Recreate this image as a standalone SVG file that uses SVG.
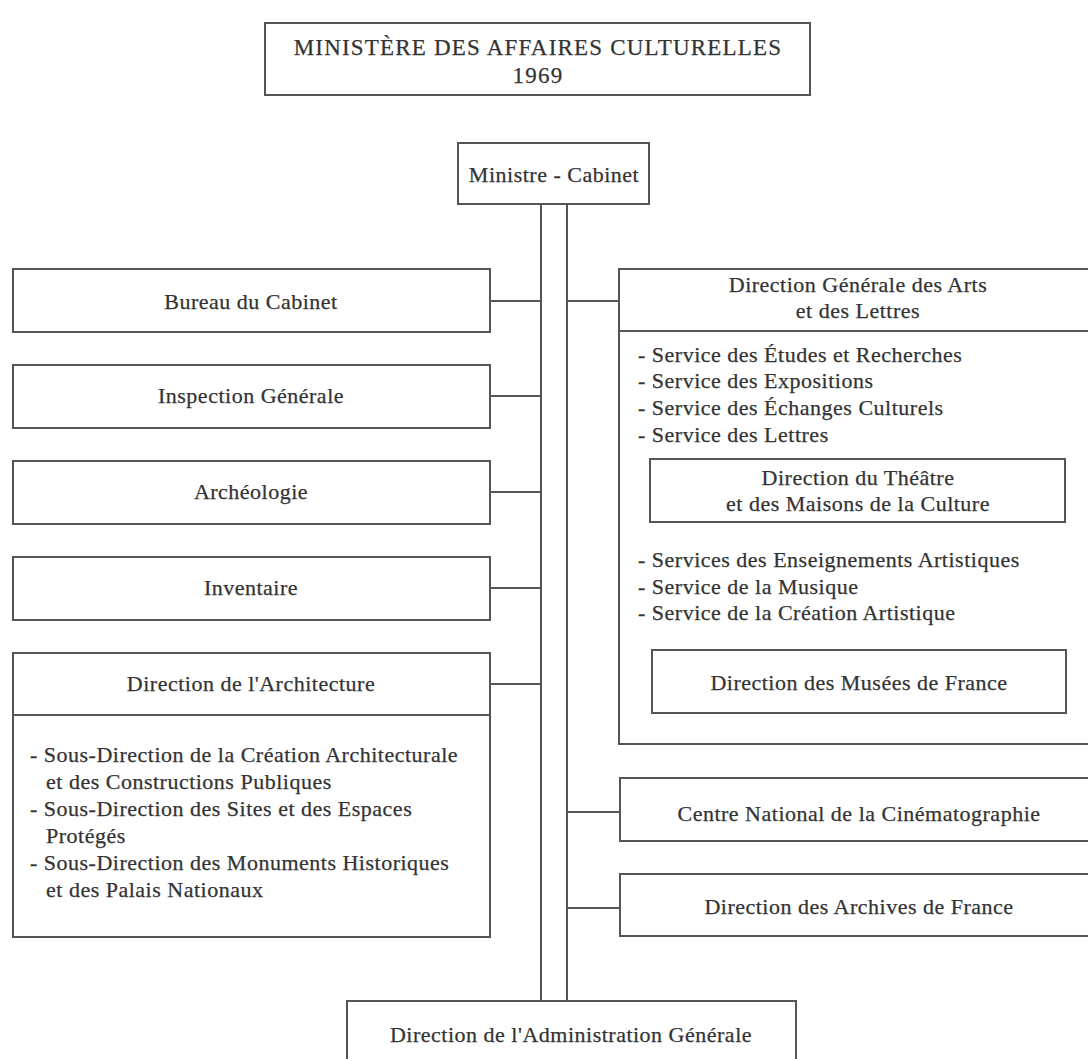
<svg xmlns="http://www.w3.org/2000/svg" width="1088" height="1059" viewBox="0 0 1088 1059">
<style>
.box{fill:#fff;stroke:#555;stroke-width:2}
.ln{stroke:#555;stroke-width:2;fill:none}
text{font-family:"Liberation Serif","Times New Roman",serif;font-size:22px;fill:#333;stroke:#333;stroke-width:0.25px;letter-spacing:0.5px}
.c{text-anchor:middle}
.t{font-size:23px;letter-spacing:1.2px}
</style>
<rect x="0" y="0" width="1088" height="1059" fill="#fff"/>
<g id="title">
<rect class="box" x="265" y="23" width="545" height="72"/>
<text class="c t" x="538" y="55">MINISTÈRE DES AFFAIRES CULTURELLES</text>
<text class="c t" x="538" y="83">1969</text>
</g>
<g id="connectors">
<line class="ln" x1="541" y1="204" x2="541" y2="1001"/>
<line class="ln" x1="567" y1="204" x2="567" y2="1001"/>
<line class="ln" x1="490" y1="301" x2="541" y2="301"/>
<line class="ln" x1="490" y1="396" x2="541" y2="396"/>
<line class="ln" x1="490" y1="492" x2="541" y2="492"/>
<line class="ln" x1="490" y1="588" x2="541" y2="588"/>
<line class="ln" x1="490" y1="684" x2="541" y2="684"/>
<line class="ln" x1="567" y1="301" x2="619" y2="301"/>
<line class="ln" x1="619" y1="491" x2="650" y2="491"/>
<line class="ln" x1="619" y1="683" x2="652" y2="683"/>
<line class="ln" x1="567" y1="812" x2="620" y2="812"/>
<line class="ln" x1="567" y1="908" x2="620" y2="908"/>
</g>
<g id="ministre">
<rect class="box" x="458" y="143" width="191" height="61"/>
<text class="c" x="554" y="182">Ministre - Cabinet</text>
</g>
<g id="bureau">
<rect class="box" x="13" y="269" width="477" height="63"/>
<text class="c" x="251" y="309">Bureau du Cabinet</text>
</g>
<g id="inspection">
<rect class="box" x="13" y="365" width="477" height="63"/>
<text class="c" x="251" y="403">Inspection Générale</text>
</g>
<g id="archeologie">
<rect class="box" x="13" y="461" width="477" height="63"/>
<text class="c" x="251" y="499">Archéologie</text>
</g>
<g id="inventaire">
<rect class="box" x="13" y="557" width="477" height="63"/>
<text class="c" x="251" y="595">Inventaire</text>
</g>
<g id="architecture">
<rect class="box" x="13" y="653" width="477" height="284"/>
<line class="ln" x1="13" y1="715" x2="490" y2="715"/>
<text class="c" x="251" y="691">Direction de l'Architecture</text>
<text x="30" y="762">- Sous-Direction de la Création Architecturale</text>
<text x="46" y="789">et des Constructions Publiques</text>
<text x="30" y="816">- Sous-Direction des Sites et des Espaces</text>
<text x="46" y="843">Protégés</text>
<text x="30" y="870">- Sous-Direction des Monuments Historiques</text>
<text x="46" y="897">et des Palais Nationaux</text>
</g>
<g id="arts-lettres">
<rect class="box" x="619" y="269" width="490" height="475"/>
<line class="ln" x1="619" y1="331" x2="1100" y2="331"/>
<text class="c" x="858" y="292">Direction Générale des Arts</text>
<text class="c" x="858" y="318">et des Lettres</text>
<text x="638" y="362">- Service des Études et Recherches</text>
<text x="638" y="388">- Service des Expositions</text>
<text x="638" y="415">- Service des Échanges Culturels</text>
<text x="638" y="442">- Service des Lettres</text>
<text x="638" y="567">- Services des Enseignements Artistiques</text>
<text x="638" y="594">- Service de la Musique</text>
<text x="638" y="620">- Service de la Création Artistique</text>
</g>
<g id="theatre">
<rect class="box" x="650" y="459" width="415" height="63"/>
<text class="c" x="858" y="485">Direction du Théâtre</text>
<text class="c" x="858" y="511">et des Maisons de la Culture</text>
</g>
<g id="musees">
<rect class="box" x="652" y="650" width="414" height="63"/>
<text class="c" x="859" y="690">Direction des Musées de France</text>
</g>
<g id="cnc">
<rect class="box" x="620" y="778" width="490" height="63"/>
<text class="c" x="859" y="821">Centre National de la Cinématographie</text>
</g>
<g id="archives">
<rect class="box" x="620" y="874" width="490" height="62"/>
<text class="c" x="859" y="914">Direction des Archives de France</text>
</g>
<g id="administration">
<rect class="box" x="347" y="1001" width="449" height="80"/>
<text class="c" x="571" y="1042">Direction de l'Administration Générale</text>
</g>
</svg>
